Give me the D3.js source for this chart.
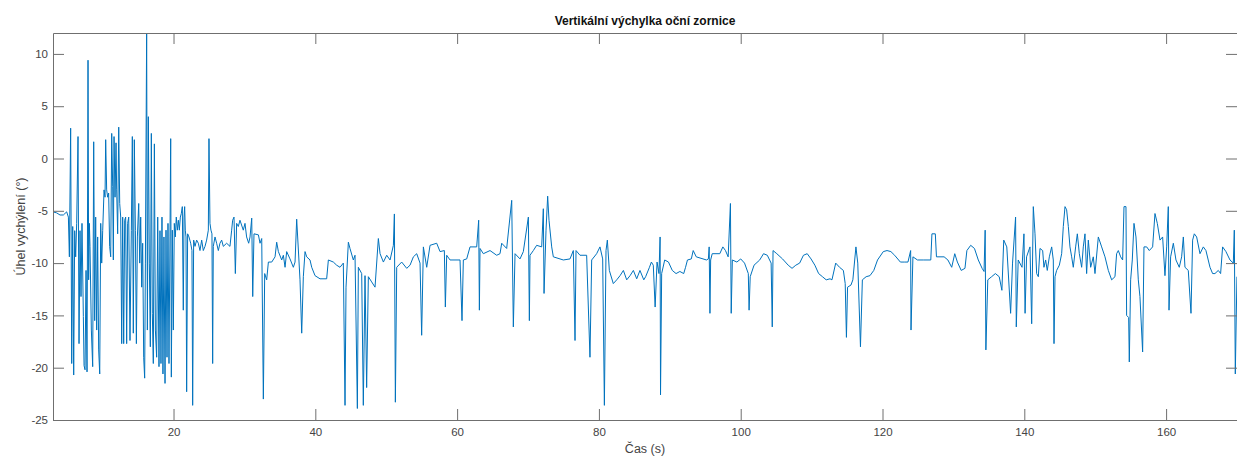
<!DOCTYPE html>
<html>
<head>
<meta charset="utf-8">
<script src="https://cdn.jsdelivr.net/npm/d3@7"></script>
<style>
  body { margin: 0; background: #fff; }
  svg { display: block; font-family: "Liberation Sans", Arial, sans-serif; }
</style>
</head>
<body>
<div id="chart"></div>
<script>
// x ticks (s) and y ticks (deg)
var xTicks = [20, 40, 60, 80, 100, 120, 140, 160];
var yTicks = [-25, -20, -15, -10, -5, 0, 5, 10];

// samples: [time s, angle deg]
var eyeSamples = [
  [3.00,-5.1],[3.52,-5.2],[3.99,-5.4],[4.46,-5.4],[4.93,-5.1],[5.17,-5.6],[5.31,-9.4],[5.49,2.9],
  [5.64,-19.6],[5.78,-6.5],[5.92,-20.7],[6.06,-6.9],[6.20,-9.4],[6.34,-6.2],[6.53,2.1],[6.67,-17.7],
  [6.81,-6.9],[6.95,-13.2],[7.09,-6.2],[7.28,-15.1],[7.38,-19.8],[7.52,-20.2],[7.66,-10.7],[7.80,-20.4],
  [7.94,9.4],[8.03,-11.6],[8.13,-6.2],[8.22,-8.4],[8.41,-16.4],[8.60,-19.9],[8.74,1.6],[8.88,-15.5],
  [9.02,-5.6],[9.16,-16.4],[9.30,-7.5],[9.44,-18.3],[9.59,-20.6],[9.73,-6.2],[9.87,-10.0],[10.01,-6.9],
  [10.20,-3.0],[10.34,-3.7],[10.43,1.8],[10.57,-3.0],[10.71,-3.7],[10.85,-3.3],[10.99,-8.4],[11.14,-9.4],
  [11.28,2.4],[11.42,-2.7],[11.51,-9.7],[11.61,2.1],[11.75,-3.7],[11.89,1.5],[11.98,-3.0],[12.12,-7.2],
  [12.27,3.0],[12.41,-4.3],[12.55,-5.6],[12.69,-17.7],[12.83,-5.6],[12.97,-17.7],[13.11,-5.9],[13.25,-5.6],
  [13.39,-17.7],[13.53,-6.2],[13.68,-5.6],[13.86,-17.4],[14.05,-6.9],[14.19,2.1],[14.33,-16.7],[14.47,1.8],
  [14.62,-6.9],[14.76,-17.7],[14.90,-7.5],[15.09,-4.3],[15.23,-10.0],[15.37,-5.6],[15.51,-12.3],[15.65,-8.1],
  [15.79,-19.0],[15.93,-21.0],[16.03,-10.0],[16.21,12.3],[16.31,-16.4],[16.45,4.0],[16.59,-10.0],[16.73,-18.0],
  [16.87,2.4],[17.01,-14.8],[17.15,-19.6],[17.30,1.4],[17.44,-16.4],[17.62,-19.0],[17.77,-5.6],[17.95,-19.9],
  [18.09,-6.9],[18.23,-19.6],[18.37,-5.6],[18.51,-20.6],[18.65,-7.5],[18.80,-21.5],[18.94,-6.85],[19.08,-19.0],
  [19.22,-6.2],[19.36,-19.6],[19.50,-7.5],[19.60,1.9],[19.69,-20.9],[19.83,-6.85],[19.97,-16.4],[20.11,-6.2],
  [20.25,-7.5],[20.39,-5.6],[20.54,-6.85],[20.68,-5.9],[20.82,-6.85],[20.96,-5.6],[21.10,-5.25],[21.24,-4.6],
  [21.38,-14.5],[21.48,-5.6],[21.57,-4.6],[21.66,-6.85],[21.76,-7.5],[21.85,-22.3],[21.99,-7.2],[22.18,-7.5],
  [22.42,-8.1],[22.60,-8.8],[22.70,-23.6],[22.84,-7.8],[23.03,-8.4],[23.26,-7.8],[23.50,-8.1],[23.73,-8.8],
  [23.97,-7.8],[24.20,-8.8],[24.44,-8.4],[24.67,-7.8],[24.91,-6.85],[25.00,1.9],[25.14,-6.2],[25.28,-6.85],
  [25.42,-7.2],[25.52,-19.6],[25.61,-8.4],[25.85,-7.5],[26.08,-8.1],[26.32,-8.8],[26.55,-8.1],[26.79,-7.8],
  [27.02,-8.4],[27.49,-8.1],[27.96,-8.4],[28.20,-6.85],[28.34,-5.9],[28.53,-5.6],[28.72,-11.0],[28.90,-6.2],
  [29.14,-6.5],[29.37,-5.9],[29.84,-6.85],[30.08,-6.2],[30.31,-7.5],[30.60,-8.1],[30.79,-7.5],[31.03,-5.7],
  [31.17,-13.2],[31.35,-7.2],[31.97,-7.3],[32.20,-8.1],[32.44,-7.65],[32.67,-23.0],[32.86,-11.0],[33.14,-11.6],
  [33.38,-9.9],[33.85,-9.9],[34.32,-9.4],[34.55,-8.0],[34.79,-8.9],[35.26,-9.7],[35.49,-9.25],[35.73,-10.4],
  [35.96,-8.9],[36.43,-9.6],[36.90,-10.4],[37.14,-9.9],[37.37,-5.8],[37.84,-11.6],[38.08,-16.7],[38.31,-11.3],
  [38.55,-8.9],[38.78,-9.4],[39.25,-9.7],[39.49,-10.4],[39.96,-11.2],[40.66,-11.5],[41.60,-11.5],[41.84,-9.7],
  [42.54,-9.9],[43.01,-10.2],[43.48,-10.4],[43.95,-10.0],[44.19,-23.6],[44.33,-12.3],[44.66,-8.0],[44.89,-8.6],
  [45.36,-9.7],[45.60,-9.25],[45.93,-23.9],[46.07,-10.4],[46.54,-11.0],[46.77,-23.6],[47.01,-11.2],[47.24,-21.9],
  [47.48,-11.3],[47.95,-11.8],[48.42,-12.3],[48.89,-7.65],[49.13,-9.1],[49.60,-9.9],[50.07,-9.25],[50.54,-9.7],
  [51.01,-8.3],[51.15,-5.3],[51.29,-23.3],[51.48,-10.4],[52.18,-9.9],[52.89,-10.5],[53.36,-10.2],[53.83,-9.4],
  [54.30,-9.1],[54.77,-10.0],[55.00,-16.9],[55.24,-8.45],[55.71,-10.4],[56.18,-8.3],[57.12,-8.1],[57.59,-8.9],
  [58.20,-8.8],[58.34,-14.2],[58.53,-9.25],[59.00,-9.7],[60.41,-9.7],[60.69,-15.5],[60.88,-9.7],[61.35,-9.6],
  [61.82,-8.45],[62.76,-8.45],[63.04,-5.9],[63.14,-14.5],[63.23,-8.6],[63.70,-9.1],[64.64,-8.8],[65.58,-9.25],
  [66.05,-9.1],[66.29,-8.1],[66.99,-8.6],[67.70,-4.0],[67.93,-16.1],[68.17,-9.1],[68.87,-9.6],[69.34,-8.9],
  [70.05,-5.6],[70.19,-15.5],[70.28,-9.25],[70.75,-8.8],[71.22,-8.3],[71.93,-8.45],[72.16,-4.8],[72.26,-12.9],
  [72.54,-6.85],[72.77,-3.6],[72.96,-5.9],[73.34,-8.45],[73.57,-9.4],[74.98,-9.7],[75.92,-9.6],[76.39,-8.8],
  [76.63,-17.4],[76.77,-8.8],[77.33,-9.25],[78.27,-9.25],[78.74,-19.0],[78.98,-9.7],[79.68,-9.1],[80.15,-8.45],
  [80.53,-9.6],[80.77,-23.6],[81.00,-8.8],[81.19,-7.8],[81.47,-10.7],[82.03,-11.96],[82.51,-11.6],[82.98,-11.2],
  [83.45,-10.7],[83.92,-11.6],[84.39,-11.2],[84.86,-10.7],[85.33,-11.5],[85.79,-10.7],[86.33,-11.6],[86.59,-11.3],
  [87.13,-10.4],[87.40,-9.9],[87.67,-10.2],[87.93,-14.2],[88.20,-9.9],[88.47,-11.0],[88.63,-7.5],[88.69,-22.6],
  [88.85,-11.0],[89.28,-9.7],[89.81,-9.9],[90.35,-10.7],[90.88,-11.0],[91.42,-10.8],[91.96,-11.0],[92.22,-10.4],
  [92.49,-9.7],[93.03,-9.6],[93.30,-8.8],[93.73,-9.4],[95.17,-9.7],[95.44,-9.6],[95.55,-8.45],[95.66,-14.8],
  [95.76,-9.7],[95.98,-9.1],[97.05,-9.1],[97.48,-8.45],[97.85,-8.8],[98.23,-9.4],[98.55,-4.3],[98.66,-14.8],
  [98.82,-9.7],[99.46,-9.9],[100.00,-9.6],[100.54,-10.0],[101.07,-11.0],[101.18,-14.5],[101.34,-11.3],[101.88,-10.2],
  [102.68,-9.7],[103.22,-9.1],[103.75,-9.25],[104.29,-10.0],[104.45,-16.1],[104.56,-8.8],[105.09,-9.1],[105.90,-9.6],
  [106.70,-10.2],[107.24,-10.5],[107.77,-10.2],[108.31,-10.0],[108.85,-9.25],[109.38,-9.1],[109.92,-9.6],[110.46,-10.2],
  [110.99,-11.0],[111.53,-11.3],[112.06,-11.6],[112.60,-11.5],[112.87,-11.6],[113.40,-10.0],[113.94,-10.4],[114.48,-10.7],
  [114.74,-11.96],[114.91,-17.1],[115.07,-12.3],[115.55,-12.1],[115.82,-11.6],[116.25,-8.45],[116.51,-10.0],[116.89,-18.0],
  [117.16,-11.6],[117.69,-11.3],[118.23,-11.2],[118.77,-10.7],[119.30,-9.7],[120.11,-8.9],[120.64,-8.8],[121.18,-8.9],
  [121.71,-9.25],[122.52,-9.9],[123.06,-9.9],[123.59,-9.9],[123.97,-8.8],[124.02,-16.4],[124.29,-9.4],[124.93,-9.7],
  [125.74,-9.7],[126.81,-9.7],[126.97,-7.2],[127.45,-7.2],[127.61,-9.4],[128.69,-9.4],[129.22,-9.7],[129.76,-10.4],
  [130.19,-9.1],[130.56,-9.9],[131.10,-10.7],[131.63,-10.5],[131.90,-8.8],[132.44,-8.3],[132.97,-8.6],[133.51,-9.7],
  [134.05,-10.5],[134.32,-10.8],[134.48,-6.85],[134.58,-18.3],[134.85,-11.6],[135.39,-11.3],[135.92,-11.0],[136.46,-11.3],
  [136.84,-12.6],[137.10,-7.8],[137.53,-8.45],[138.07,-14.8],[138.34,-10.0],[138.77,-5.6],[138.87,-16.1],[139.14,-9.7],
  [139.68,-10.4],[139.95,-7.2],[140.11,-14.8],[140.32,-9.4],[140.80,-8.45],[141.04,-15.8],[141.27,-4.6],[141.51,-7.2],
  [141.74,-11.0],[141.98,-11.3],[142.21,-8.6],[142.59,-8.8],[142.77,-10.4],[143.01,-9.7],[143.24,-10.7],[143.53,-9.4],
  [143.86,-8.45],[144.09,-9.7],[144.19,-17.7],[144.33,-11.3],[144.56,-10.7],[144.94,-10.2],[145.27,-9.1],[145.50,-6.5],
  [145.74,-4.6],[145.97,-4.9],[146.21,-6.5],[146.44,-8.45],[146.68,-9.4],[146.91,-10.4],[147.24,-8.45],[147.48,-7.2],
  [147.76,-9.1],[148.09,-10.4],[148.32,-8.45],[148.56,-7.2],[148.79,-11.0],[149.03,-7.8],[149.36,-10.4],[149.73,-9.4],
  [149.97,-11.0],[150.44,-7.5],[150.91,-8.45],[151.38,-9.4],[151.85,-10.7],[152.32,-11.6],[152.79,-11.3],[153.02,-9.1],
  [153.26,-8.8],[153.59,-9.4],[153.87,-9.7],[154.06,-4.6],[154.34,-4.6],[154.43,-15.0],[154.72,-15.2],[154.81,-19.45],
  [155.00,-11.6],[155.23,-9.7],[155.47,-6.2],[155.75,-7.5],[156.08,-11.6],[156.31,-13.2],[156.69,-18.5],[156.88,-8.45],
  [157.26,-8.45],[157.63,-8.8],[158.10,-8.45],[158.43,-5.26],[158.76,-6.2],[159.14,-7.8],[159.51,-7.5],[159.84,-11.2],
  [160.08,-8.45],[160.31,-4.6],[160.41,-14.5],[160.64,-9.4],[161.02,-8.1],[161.39,-9.7],[161.86,-10.4],[162.19,-9.4],
  [162.43,-7.5],[162.66,-10.4],[163.13,-10.7],[163.51,-14.8],[163.74,-7.8],[163.98,-7.2],[164.31,-7.5],[164.78,-9.1],
  [165.25,-8.45],[165.62,-8.8],[166.19,-10.4],[166.56,-11.0],[166.89,-11.0],[167.36,-10.7],[167.69,-11.0],[167.97,-8.45],
  [168.44,-8.9],[169.01,-9.7],[169.48,-10.0],[169.62,-6.85],[169.76,-20.6],[169.99,-11.3]
];

var width = 1237;
var height = 457;
var margin = { top: 33, right: 0, bottom: 37, left: 53 };
var plotW = width - margin.left - margin.right;
var plotH = height - margin.top - margin.bottom;
var axisColor = '#6f6f6f';
var labelColor = '#444';
var lineColor = '#0072bd';
var tickLen = 11;

var svg = d3.select('#chart')
  .append('svg')
  .attr('width', width)
  .attr('height', height);

var x = d3.scaleLinear().domain([3, 170]).range([0, plotW]);
var y = d3.scaleLinear().domain([-25, 12]).range([plotH, 0]);

var g = svg.append('g')
  .attr('transform', 'translate(' + margin.left + ',' + margin.top + ')');

// clip so the tall spike stops at the frame
g.append('clipPath')
  .attr('id', 'plotClip')
  .append('rect')
  .attr('width', plotW)
  .attr('height', plotH);

var line = d3.line()
  .x(function (d) { return x(d[0]); })
  .y(function (d) { return y(d[1]); });

g.append('path')
  .datum(eyeSamples)
  .attr('clip-path', 'url(#plotClip)')
  .attr('fill', 'none')
  .attr('stroke', lineColor)
  .attr('stroke-width', 1)
  .attr('stroke-linejoin', 'round')
  .attr('d', line);

function fmt(d) { return String(d); }

// axes, ticks point inward like matlab
var xBottom = g.append('g')
  .attr('transform', 'translate(0,' + plotH + ')')
  .call(d3.axisBottom(x).tickValues(xTicks).tickFormat(fmt)
    .tickSizeInner(-tickLen).tickSizeOuter(0).tickPadding(8));
var xTop = g.append('g')
  .call(d3.axisTop(x).tickValues(xTicks).tickFormat('')
    .tickSizeInner(-tickLen).tickSizeOuter(0));
var yLeft = g.append('g')
  .call(d3.axisLeft(y).tickValues(yTicks).tickFormat(fmt)
    .tickSizeInner(-tickLen).tickSizeOuter(0).tickPadding(5));
var yRight = g.append('g')
  .attr('transform', 'translate(' + plotW + ',0)')
  .call(d3.axisRight(y).tickValues(yTicks).tickFormat('')
    .tickSizeInner(-tickLen).tickSizeOuter(0));
// the right frame edge sits just outside the window
yRight.select('path.domain').remove();

[xBottom, xTop, yLeft, yRight].forEach(function (ax) {
  ax.selectAll('path.domain').attr('stroke', axisColor);
  ax.selectAll('.tick line').attr('stroke', axisColor);
  ax.selectAll('.tick text')
    .attr('fill', labelColor)
    .style('font-size', '11.5px')
    .style('font-family', '"Liberation Sans", Arial, sans-serif');
});

// title and labels
svg.append('text')
  .attr('x', margin.left + plotW / 2)
  .attr('y', 25)
  .attr('text-anchor', 'middle')
  .style('font-size', '12px')
  .style('font-weight', 'bold')
  .attr('fill', '#111')
  .text('Vertikální výchylka oční zornice');

svg.append('text')
  .attr('x', margin.left + plotW / 2)
  .attr('y', 453)
  .attr('text-anchor', 'middle')
  .style('font-size', '12.5px')
  .attr('fill', labelColor)
  .text('Čas (s)');

svg.append('text')
  .attr('transform', 'translate(25,' + (margin.top + plotH / 2) + ') rotate(-90)')
  .attr('text-anchor', 'middle')
  .style('font-size', '12.5px')
  .attr('fill', labelColor)
  .text('Úhel vychýlení (°)');
</script>
</body>
</html>
